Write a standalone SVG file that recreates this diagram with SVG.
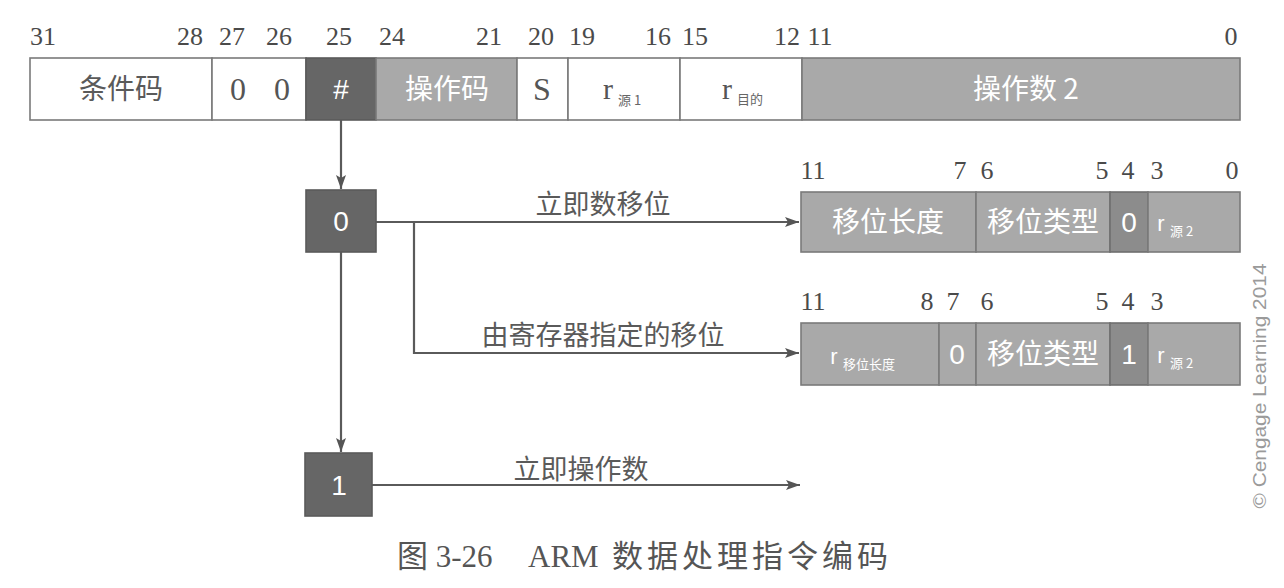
<svg xmlns="http://www.w3.org/2000/svg" width="1284" height="588" viewBox="0 0 1284 588">
<style>
.bit{font-family:"Liberation Serif","Noto Sans CJK SC",serif;font-size:26px;fill:#4a4a4a;text-anchor:middle}
.wbox{fill:#ffffff;stroke:#7a7a7a;stroke-width:1.6}
.gbox{fill:#a9a9a9;stroke:#7a7a7a;stroke-width:1.6}
.mbox{fill:#8c8c8c;stroke:#6f6f6f;stroke-width:1.6}
.dbox{fill:#666666;stroke:#5a5a5a;stroke-width:1.6}
.cn{font-family:"Noto Sans CJK SC","Liberation Sans",sans-serif;font-size:28px;text-anchor:middle}
.dk{fill:#5a5a5a}
.wt{fill:#ffffff}
.ser{font-family:"Liberation Serif","Noto Sans CJK SC",serif;font-size:32px;text-anchor:middle;fill:#555}
.sans{font-family:"Liberation Sans","Noto Sans CJK SC",sans-serif;font-size:28px;text-anchor:middle;fill:#ffffff}
.sub{font-family:"Noto Sans CJK SC",sans-serif;font-size:13px}
.lbl{font-family:"Noto Sans CJK SC","Liberation Sans",sans-serif;font-size:27px;fill:#5a5a5a;text-anchor:middle}
.conn{stroke:#5a5a5a;stroke-width:2.2;fill:none}
.cap{font-family:"Liberation Serif","Noto Sans CJK SC",serif;font-size:31px;fill:#555}
</style>
<defs>
<marker id="arr" viewBox="0 0 14 10" refX="14" refY="5" markerWidth="14" markerHeight="10" markerUnits="userSpaceOnUse" orient="auto">
<path d="M0,0 L14,5 L0,10 L3,5 Z" fill="#555"/>
</marker>
</defs>

<g id="top-bits">
<text class="bit" x="43" y="45">31</text>
<text class="bit" x="190" y="45">28</text>
<text class="bit" x="232" y="45">27</text>
<text class="bit" x="279" y="45">26</text>
<text class="bit" x="339" y="45">25</text>
<text class="bit" x="392" y="45">24</text>
<text class="bit" x="489" y="45">21</text>
<text class="bit" x="541" y="45">20</text>
<text class="bit" x="582" y="45">19</text>
<text class="bit" x="658" y="45">16</text>
<text class="bit" x="695" y="45">15</text>
<text class="bit" x="787" y="45">12</text>
<text class="bit" x="820" y="45">11</text>
<text class="bit" x="1231" y="45">0</text>
</g>

<g id="instr-word">
<rect class="wbox" x="30" y="58" width="182" height="62"/>
<text class="cn dk" x="121" y="99" fill="#555">条件码</text>
<rect class="wbox" x="212" y="58" width="94" height="62"/>
<text class="ser" x="238" y="100">0</text>
<text class="ser" x="282" y="100">0</text>
<rect class="dbox" x="306" y="58" width="70" height="62"/>
<text class="sans" x="341" y="99" font-size="26">#</text>
<rect class="gbox" x="376" y="58" width="141" height="62"/>
<text class="cn wt" x="447" y="99">操作码</text>
<rect class="wbox" x="517" y="58" width="51" height="62"/>
<text class="ser" x="542" y="100">S</text>
<rect class="wbox" x="568" y="58" width="112" height="62"/>
<text x="608" y="99" font-family="Liberation Serif,serif" font-size="30" fill="#555" text-anchor="middle">r</text>
<text class="sub" x="618" y="105" fill="#666">源 1</text>
<rect class="wbox" x="680" y="58" width="122" height="62"/>
<text x="727" y="99" font-family="Liberation Serif,serif" font-size="30" fill="#555" text-anchor="middle">r</text>
<text class="sub" x="737" y="104" fill="#666">目的</text>
<rect class="gbox" x="802" y="58" width="438" height="62"/>
<text class="cn wt" x="1026" y="99">操作数 2</text>
</g>

<g id="node-0">
<rect class="dbox" x="306" y="190" width="70" height="62"/>
<text class="sans" x="341" y="231" font-size="26">0</text>
</g>

<g id="node-1">
<rect class="dbox" x="305" y="453" width="67" height="63"/>
<text class="sans" x="339" y="495" font-size="26">1</text>
</g>

<g id="imm-shift">
<text class="bit" x="813" y="179">11</text>
<text class="bit" x="960" y="179">7</text>
<text class="bit" x="987" y="179">6</text>
<text class="bit" x="1102" y="179">5</text>
<text class="bit" x="1128" y="179">4</text>
<text class="bit" x="1157" y="179">3</text>
<text class="bit" x="1232" y="179">0</text>
<rect class="gbox" x="801" y="192" width="175" height="60"/>
<text class="cn wt" x="888" y="232">移位长度</text>
<rect class="gbox" x="976" y="192" width="134" height="60"/>
<text class="cn wt" x="1043" y="232">移位类型</text>
<rect class="mbox" x="1110" y="192" width="38" height="60"/>
<text class="sans" x="1129" y="232" font-size="26">0</text>
<rect class="gbox" x="1148" y="192" width="92" height="60"/>
<text x="1161" y="231" font-family="Liberation Sans,sans-serif" font-size="22" fill="#fff" text-anchor="middle">r</text>
<text class="sub wt" x="1170" y="236">源 2</text>
</g>

<g id="reg-shift">
<text class="bit" x="813" y="310">11</text>
<text class="bit" x="927" y="310">8</text>
<text class="bit" x="953" y="310">7</text>
<text class="bit" x="987" y="310">6</text>
<text class="bit" x="1102" y="310">5</text>
<text class="bit" x="1128" y="310">4</text>
<text class="bit" x="1157" y="310">3</text>
<rect class="gbox" x="801" y="323" width="138" height="62"/>
<text x="834" y="364" font-family="Liberation Sans,sans-serif" font-size="22" fill="#fff" text-anchor="middle">r</text>
<text class="sub wt" x="843" y="369">移位长度</text>
<rect class="gbox" x="939" y="323" width="37" height="62"/>
<text class="sans" x="957" y="364" font-size="26">0</text>
<rect class="gbox" x="976" y="323" width="134" height="62"/>
<text class="cn wt" x="1043" y="364">移位类型</text>
<rect class="mbox" x="1110" y="323" width="38" height="62"/>
<text class="sans" x="1129" y="364" font-size="26">1</text>
<rect class="gbox" x="1148" y="323" width="92" height="62"/>
<text x="1161" y="363" font-family="Liberation Sans,sans-serif" font-size="22" fill="#fff" text-anchor="middle">r</text>
<text class="sub wt" x="1170" y="368">源 2</text>
</g>

<g id="connectors">
<line class="conn" x1="341" y1="120" x2="341" y2="189" marker-end="url(#arr)"/>
<line class="conn" x1="376" y1="222" x2="799" y2="222" marker-end="url(#arr)"/>
<polyline class="conn" points="414,222 414,353 799,353" marker-end="url(#arr)"/>
<line class="conn" x1="341" y1="252" x2="341" y2="452" marker-end="url(#arr)"/>
<line class="conn" x1="372" y1="485" x2="800" y2="485" marker-end="url(#arr)"/>
<text class="lbl" x="603" y="214">立即数移位</text>
<text class="lbl" x="603" y="345">由寄存器指定的移位</text>
<text class="lbl" x="581" y="479">立即操作数</text>
</g>

<text x="0" y="0" transform="translate(1266,386) rotate(-90)" font-family="Liberation Sans,sans-serif" font-size="19" fill="#9a9a9a" text-anchor="middle" textLength="245" lengthAdjust="spacingAndGlyphs">© Cengage Learning 2014</text>

<text class="cap" y="567"><tspan x="397">图 3-26</tspan><tspan x="528">ARM</tspan><tspan x="612" textLength="276" lengthAdjust="spacing">数据处理指令编码</tspan></text>
</svg>
